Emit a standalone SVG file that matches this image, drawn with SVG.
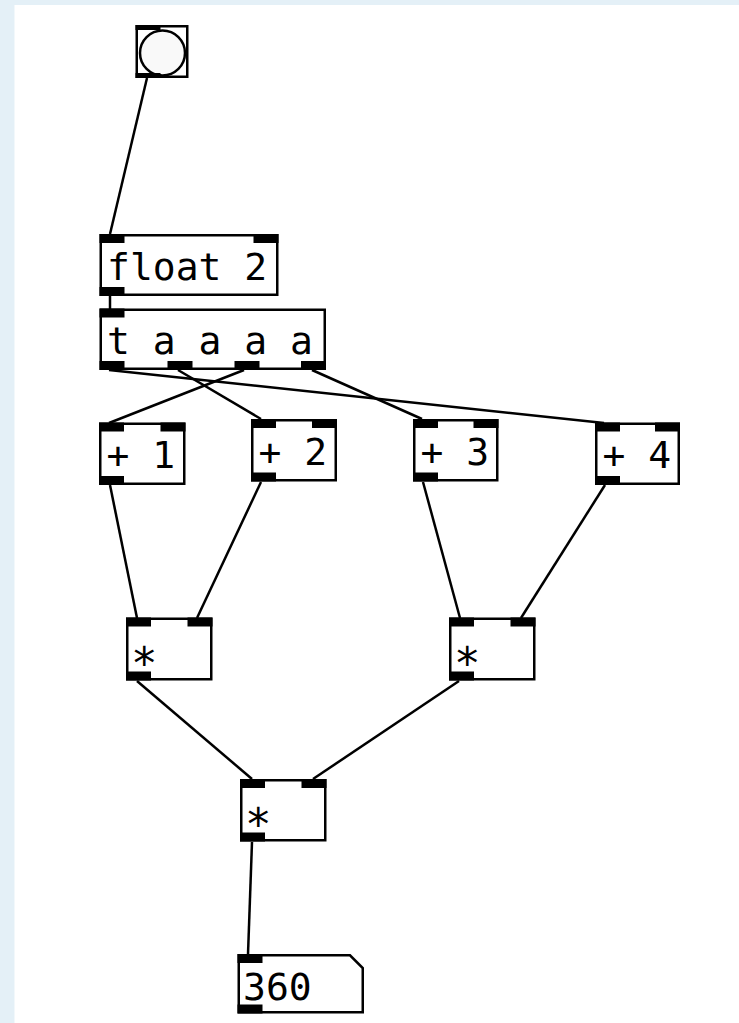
<svg xmlns="http://www.w3.org/2000/svg" width="739" height="1023" viewBox="0 0 739 1023">
<style>
.bx{fill:#fff;stroke:#000;stroke-width:2.5}
.io{fill:#000}
.cd{stroke:#000;stroke-width:2.5;fill:none}
.tx{font-family:"DejaVu Sans Mono","Liberation Mono",monospace;font-size:38px;fill:#000}
.st{font-family:"DejaVu Sans Mono","Liberation Mono",monospace;font-size:44px;fill:#000}
</style>
<rect x="0" y="0" width="739" height="1023" fill="#e4f0f7"/>
<rect x="14.5" y="5" width="724.5" height="1018" fill="#fff"/>
<g id="connectors">
<line class="cd" x1="147" y1="78" x2="110" y2="234"/>
<line class="cd" x1="110" y1="296" x2="110" y2="309"/>
<line class="cd" x1="109" y1="370" x2="604" y2="423"/>
<line class="cd" x1="178" y1="370" x2="261" y2="419"/>
<line class="cd" x1="244" y1="370" x2="109" y2="423"/>
<line class="cd" x1="312" y1="370" x2="422" y2="419"/>
<line class="cd" x1="110" y1="485" x2="137" y2="618"/>
<line class="cd" x1="261" y1="482" x2="197" y2="618"/>
<line class="cd" x1="423" y1="482" x2="460" y2="618"/>
<line class="cd" x1="605" y1="485" x2="521" y2="618"/>
<line class="cd" x1="137" y1="681" x2="252" y2="779"/>
<line class="cd" x1="459" y1="681" x2="313" y2="779"/>
<line class="cd" x1="252" y1="842" x2="248" y2="954"/>
</g>
<g id="bang">
<rect class="bx" x="136.75" y="26.25" width="50.5" height="50.5"/>
<circle cx="162.5" cy="53" r="22.5" fill="#f9f9f9" stroke="#000" stroke-width="2.5"/>
<rect class="io" x="135.5" y="25" width="25" height="5"/>
<rect class="io" x="135.5" y="73" width="25" height="5"/>
</g>
<g id="float">
<rect class="bx" x="100.75" y="235.25" width="176.5" height="59.5"/>
<rect class="io" x="99.5" y="234" width="25" height="9"/>
<rect class="io" x="253.5" y="234" width="25" height="9"/>
<rect class="io" x="99.5" y="287" width="25" height="9"/>
<text class="tx" x="107" y="279.5">float 2</text>
</g>
<g id="trigger">
<rect class="bx" x="100.75" y="309.75" width="224" height="59"/>
<rect class="io" x="99.5" y="308.5" width="25" height="9"/>
<rect class="io" x="99.5" y="361" width="25" height="9"/>
<rect class="io" x="167.5" y="361" width="25" height="9"/>
<rect class="io" x="234.5" y="361" width="25" height="9"/>
<rect class="io" x="301" y="361" width="25" height="9"/>
<text class="tx" x="107" y="354">t a a a a</text>
</g>
<g id="plus1">
<rect class="bx" x="100.25" y="423.75" width="84" height="60"/>
<rect class="io" x="99" y="422.5" width="25" height="9"/>
<rect class="io" x="160.5" y="422.5" width="25" height="9"/>
<rect class="io" x="99" y="476" width="25" height="9"/>
<text class="tx" x="106.5" y="468">+ 1</text>
</g>
<g id="plus2">
<rect class="bx" x="252.25" y="420.25" width="83.5" height="60"/>
<rect class="io" x="251" y="419" width="25" height="9"/>
<rect class="io" x="312" y="419" width="25" height="9"/>
<rect class="io" x="251" y="472.5" width="25" height="9"/>
<text class="tx" x="258.5" y="464.5">+ 2</text>
</g>
<g id="plus3">
<rect class="bx" x="414.25" y="420.25" width="83" height="60"/>
<rect class="io" x="413" y="419" width="25" height="9"/>
<rect class="io" x="473.5" y="419" width="25" height="9"/>
<rect class="io" x="413" y="472.5" width="25" height="9"/>
<text class="tx" x="420.5" y="464.5">+ 3</text>
</g>
<g id="plus4">
<rect class="bx" x="596.25" y="423.75" width="82.5" height="60"/>
<rect class="io" x="595" y="422.5" width="25" height="9"/>
<rect class="io" x="655" y="422.5" width="25" height="9"/>
<rect class="io" x="595" y="476" width="25" height="9"/>
<text class="tx" x="602.5" y="468">+ 4</text>
</g>
<g id="mul1">
<rect class="bx" x="127.25" y="618.75" width="84" height="60.5"/>
<rect class="io" x="126" y="617.5" width="25" height="9"/>
<rect class="io" x="187.5" y="617.5" width="25" height="9"/>
<rect class="io" x="126" y="671.5" width="25" height="9"/>
<text class="st" x="131" y="678.5">*</text>
</g>
<g id="mul2">
<rect class="bx" x="450.25" y="618.75" width="84" height="60.5"/>
<rect class="io" x="449" y="617.5" width="25" height="9"/>
<rect class="io" x="510.5" y="617.5" width="25" height="9"/>
<rect class="io" x="449" y="671.5" width="25" height="9"/>
<text class="st" x="454" y="678.5">*</text>
</g>
<g id="mul3">
<rect class="bx" x="241.25" y="780.25" width="84" height="60"/>
<rect class="io" x="240" y="779" width="25" height="9"/>
<rect class="io" x="301.5" y="779" width="25" height="9"/>
<rect class="io" x="240" y="832.5" width="25" height="9"/>
<text class="st" x="245" y="840">*</text>
</g>
<g id="number">
<path class="bx" d="M238.75,955.25 H350 L362.75,968 V1012.25 H238.75 Z"/>
<rect class="io" x="237.5" y="954" width="25" height="9"/>
<rect class="io" x="237.5" y="1004.5" width="25" height="9"/>
<text class="tx" x="243" y="999.5">360</text>
</g>
</svg>
